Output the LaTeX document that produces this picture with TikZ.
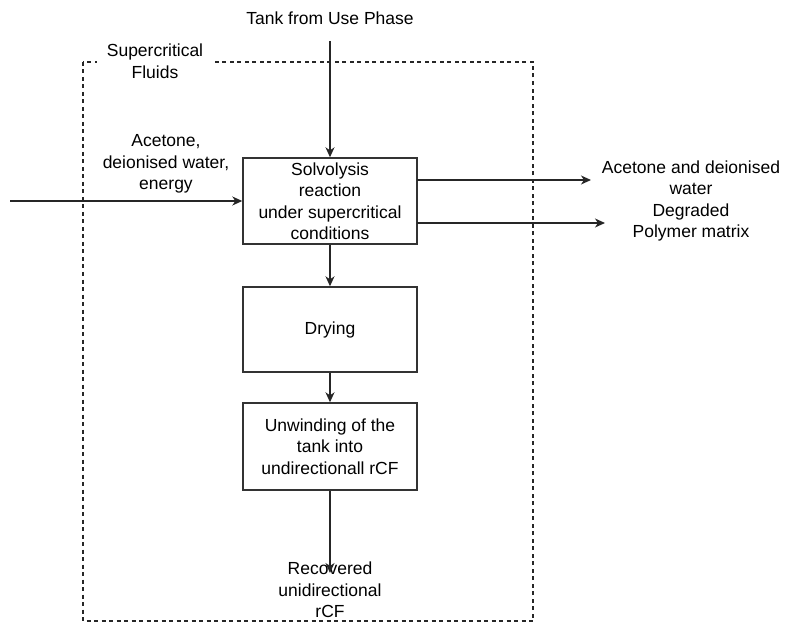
\documentclass[tikz,border=0pt]{standalone}
\usepackage{fontspec}
\setmainfont{Liberation Sans}
\usetikzlibrary{arrows.meta}
\begin{document}
\begin{tikzpicture}[x=1pt,y=-1pt,
  every node/.style={font=\fontsize{17.5}{21.5}\selectfont, align=center, inner sep=0pt},
  procbox/.style={draw=black!80, line width=1.4pt, minimum width=174pt, inner sep=0pt},
  arr/.style={draw=black!85, line width=1.4pt, -{Stealth[length=10pt,width=9pt,inset=3pt]}},
  zone/.style={draw=black!85, line width=1.3pt, dash pattern=on 4pt off 3.5pt}]
\useasboundingbox (0,0) rectangle (788,623);
% dashed zone
\draw[zone] (83,62) rectangle (533,621);
\node[fill=white, minimum width=116pt, minimum height=44pt] (zonelbl) at (155,61) {Supercritical\\Fluids};
% boxes
\node[procbox, minimum height=86pt] (solv) at (330,201) {Solvolysis\\reaction\\under supercritical\\conditions};
\node[procbox, minimum height=85pt] (dry) at (330,329.5) {Drying};
\node[procbox, minimum height=87pt] (unw) at (330,446.5) {Unwinding of the\\tank into\\undirectionall rCF};
% texts
\node (tank) at (330,18) {Tank from Use Phase};
\node (inputs) at (166,164) {Acetone,\\deionised water,\\energy};
\node (outs) at (691,201) {Acetone and deionised\\water\\Degraded\\Polymer matrix};
\node (rec) at (330,590) {Recovered\\unidirectional\\rCF};
% connector ends
\coordinate (tankend) at (330,41);
\coordinate (inL) at (10,201);
\coordinate (o1s) at (417,180);
\coordinate (o1e) at (591,180);
\coordinate (o2s) at (417,223);
\coordinate (o2e) at (605,223);
\coordinate (rectip) at (330,573);
% connectors
\draw[arr] (tankend) -- (solv.north);
\draw[arr] (inL) -- (solv.west);
\draw[arr] (o1s) -- (o1e);
\draw[arr] (o2s) -- (o2e);
\draw[arr] (solv.south) -- (dry.north);
\draw[arr] (dry.south) -- (unw.north);
\draw[arr] (unw.south) -- (rectip);
\end{tikzpicture}
\end{document}
